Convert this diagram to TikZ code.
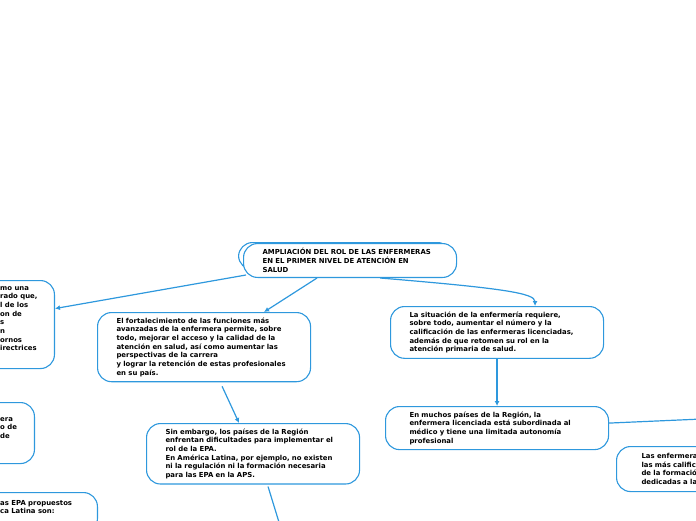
\documentclass[tikz,border=0pt]{standalone}
\usepackage{fontspec}
\newfontfamily\cajafont{DejaVu Sans}
\usetikzlibrary{arrows.meta}
\definecolor{azulmapa}{HTML}{2E98DD}
\newcommand{\txt}{\cajafont\bfseries\fontsize{6.9}{8.7}\selectfont}

\begin{document}
\begin{tikzpicture}[x=1pt,y=-1pt,
  caja/.style={rectangle,rounded corners=14pt,draw=azulmapa,line width=1.1pt,fill=white,
               inner xsep=19pt,inner ysep=5pt,text width=175pt,align=left,font=\txt},
  trozo/.style={inner sep=0pt,align=left,font=\txt},
  flecha/.style={draw=azulmapa,line width=1.2pt,-{Latex[length=5pt,width=5pt]}},
  linea/.style={draw=azulmapa,line width=1.2pt}]

 \useasboundingbox (0,0) rectangle (696,520);
 \clip (0,0) rectangle (696,520);

 \node[caja,anchor=north west,minimum height=27pt] (sombra) at (238,242) {};

 \node[caja,anchor=north west] (raiz) at (243,243)
      {AMPLIACIÓN DEL ROL DE LAS ENFERMERAS\\
       EN EL PRIMER NIVEL DE ATENCIÓN EN\\
       SALUD};

 \node[caja,anchor=north east,minimum height=88pt] (izq1) at (55,280) {};
 \node[trozo,anchor=north west] (izq1txt) at (0,286)
      {mo una\\ rado que,\\ l de los\\ on de\\ s\\ n\\ ornos\\ irectrices};

 \node[caja,anchor=north west] (fort) at (97,312)
      {El fortalecimiento de las funciones más\\
       avanzadas de la enfermera permite, sobre\\
       todo, mejorar el acceso y la calidad de la\\
       atención en salud, así como aumentar las\\
       perspectivas de la carrera\\
       y lograr la retención de estas profesionales\\
       en su país.};

 \node[caja,anchor=north west] (sit) at (390,306)
      {La situación de la enfermería requiere,\\
       sobre todo, aumentar el número y la\\
       calificación de las enfermeras licenciadas,\\
       además de que retomen su rol en la\\
       atención primaria de salud.};

 \node[caja,anchor=north east,minimum height=61pt] (izq2) at (35,402) {};
 \node[trozo,anchor=north west] (izq2txt) at (0,417)
      {era\\ o de\\ de};

 \node[caja,anchor=north west] (emb) at (146,423)
      {Sin embargo, los países de la Región\\
       enfrentan dificultades para implementar el\\
       rol de la EPA.\\
       En América Latina, por ejemplo, no existen\\
       ni la regulación ni la formación necesaria\\
       para las EPA en la APS.};

 \node[caja,anchor=north west,inner xsep=24pt] (muchos) at (385,406)
      {En muchos países de la Región, la\\
       enfermera licenciada está subordinada al\\
       médico y tiene una limitada autonomía\\
       profesional};

 \node[caja,anchor=north west,inner xsep=25pt,minimum height=45pt] (enf) at (616,446)
      {Las enfermera\\
       las más calific\\
       de la formació\\
       dedicadas a la};

 \node[caja,anchor=north east,minimum height=40pt] (izq3) at (98,492) {};
 \node[trozo,anchor=north west] (izq3txt) at (0,500)
      {as EPA propuestos\\ ca Latina son:};

 \coordinate (sal1) at (282,532);
 \coordinate (sal2) at (702,419);

 \draw[flecha] ([xshift=3pt,yshift=3pt]raiz.south west) -- ([yshift=16pt]izq1.east);
 \draw[flecha] ([xshift=-33pt]raiz.south) -- ([xshift=60pt]fort.north);
 \draw[flecha] ([xshift=30pt]raiz.south) .. controls +(120,10) and +(0,-13) .. ([xshift=38pt]sit.north);
 \draw[flecha] ([xshift=18pt,yshift=-4pt]fort.south) -- ([xshift=-14pt]emb.north);
 \draw[flecha] (sit.south) -- (muchos.north);
 \draw[linea] ([xshift=15pt,yshift=-2pt]emb.south) -- (sal1);
 \draw[linea] ([yshift=5pt]muchos.east) -- (sal2);

\end{tikzpicture}
\end{document}
